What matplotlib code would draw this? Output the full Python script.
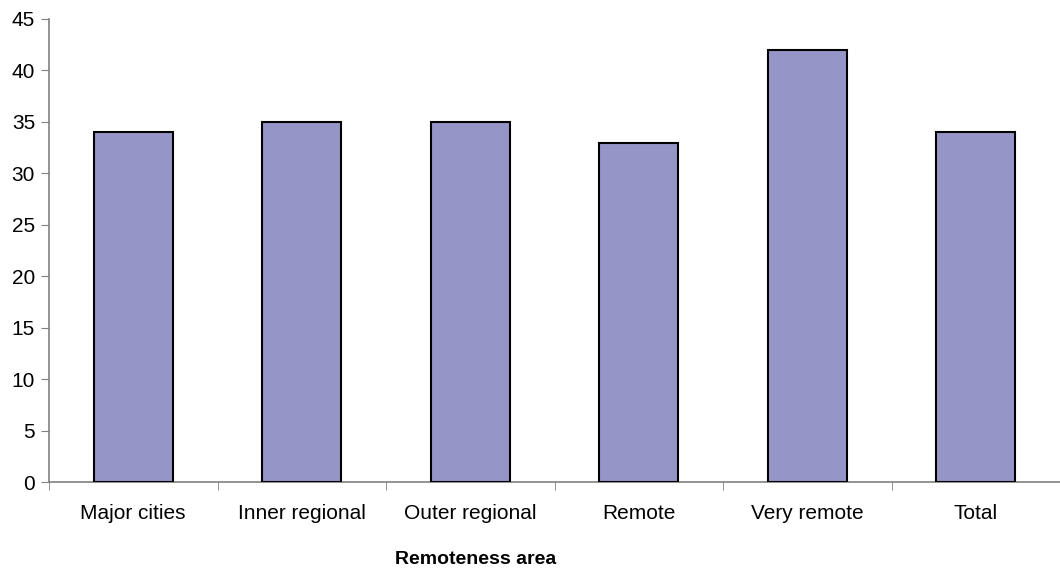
import matplotlib
matplotlib.use("Agg")
import matplotlib.pyplot as plt
import numpy as np

plt.rcParams['font.family'] = ['Liberation Sans', 'DejaVu Sans']

categories = ["Major cities", "Inner regional", "Outer regional", "Remote", "Very remote", "Total"]
values = [34, 35, 35, 32.9, 42, 34]
y_ticks = [0, 5, 10, 15, 20, 25, 30, 35, 40, 45]

fig = plt.figure(figsize=(10.6, 5.74), dpi=100)
ax = fig.add_axes([49/1060, 1 - 482/574, 1 - 49/1060, (482 - 19)/574])

x = np.arange(len(categories))
ax.bar(x, values, width=0.47, color='#9595C8', edgecolor='black', linewidth=1.5, zorder=3)

ax.set_xlim(-0.5, len(categories) - 0.5)
ax.set_ylim(0, 45)
ax.set_yticks(y_ticks)
ax.set_yticklabels([str(t) for t in y_ticks], fontsize=15)

ax.set_xticks(x)
ax.set_xticklabels(categories, fontsize=15)
ax.tick_params(axis='x', length=0, pad=16)
ax.set_xticks(np.arange(len(categories) + 1) - 0.5, minor=True)
ax.tick_params(axis='x', which='minor', length=6, color='#808080', direction='out')
ax.tick_params(axis='y', length=6, color='#808080', direction='out', pad=4)

for s in ['top', 'right']:
    ax.spines[s].set_visible(False)
ax.spines['left'].set_color('#808080')
ax.spines['bottom'].set_color('#808080')
ax.spines['left'].set_linewidth(1.2)
ax.spines['bottom'].set_linewidth(1.2)

fig.text(476/1060, 1 - 560/574, "Remoteness area", fontsize=14, fontweight='bold',
         ha='center', va='center')

fig.savefig("out.png", dpi=100)
